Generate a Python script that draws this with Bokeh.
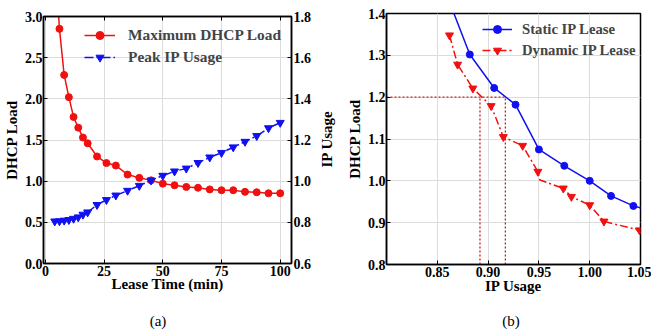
import math
from bokeh.plotting import figure
from bokeh.models import (Range1d, LinearAxis, FixedTicker, NumeralTickFormatter,
                          Legend, LegendItem, Div)
from bokeh.layouts import row, column
from bokeh.embed import file_html
from bokeh.resources import INLINE

# ---------------- data: panel (a) ----------------
lease_time = [4, 6, 8, 10, 12, 14, 16, 18, 22, 26, 30, 35, 40, 45, 50, 55, 60, 65, 70, 75, 80, 85, 90, 95, 100]
max_dhcp_load = [3.70, 2.85, 2.29, 2.02, 1.78, 1.65, 1.53, 1.46, 1.30, 1.22, 1.19, 1.08, 1.04,
                 1.01, 0.97, 0.95, 0.93, 0.92, 0.90, 0.89, 0.89, 0.87, 0.865, 0.853, 0.853]
peak_ip_usage = [0.805, 0.806, 0.809, 0.812, 0.818, 0.825, 0.838, 0.849, 0.885, 0.909, 0.931, 0.954, 0.978,
                 1.004, 1.027, 1.048, 1.062, 1.089, 1.116, 1.138, 1.165, 1.192, 1.220, 1.258, 1.284]
a_x_ticks = [0, 25, 50, 75, 100]
a_y_ticks = [0.0, 0.5, 1.0, 1.5, 2.0, 2.5, 3.0]
a_y2_ticks = [0.6, 0.8, 1.0, 1.2, 1.4, 1.6, 1.8]

# ---------------- data: panel (b) ----------------
ip_usage_static = [0.860, 0.882, 0.906, 0.927, 0.950, 0.975, 1.000, 1.021, 1.043, 1.065]
load_static = [1.44, 1.302, 1.222, 1.182, 1.075, 1.036, 1.000, 0.964, 0.940, 0.925]
ip_usage_dynamic = [0.862, 0.870, 0.885, 0.903, 0.915, 0.934, 0.949, 0.951, 0.974, 0.982, 1.000, 1.014, 1.049]
load_dynamic = [1.348, 1.278, 1.221, 1.179, 1.105, 1.084, 1.022, 1.002, 0.982, 0.962, 0.942, 0.903, 0.882]
dynamic_marked = [True, True, True, True, True, True, True, False, True, True, True, True, True]
target_load = 1.2
crossing_ip = [0.892, 0.917]
b_x_ticks = [0.85, 0.90, 0.95, 1.00, 1.05]
b_y_ticks = [0.8, 0.9, 1.0, 1.1, 1.2, 1.3, 1.4]

FONT = "Liberation Serif"
RED = "#f01010"
BLUE = "#1010f0"
GRID = "#dcdcdc"


def style_axis(ax, ticks, fmt, show_labels=True):
    ax.ticker = FixedTicker(ticks=ticks)
    ax.formatter = NumeralTickFormatter(format=fmt)
    ax.major_tick_in = 4
    ax.major_tick_out = 0
    ax.minor_tick_line_color = None
    ax.major_tick_line_color = "black"
    ax.major_tick_line_width = 1
    ax.axis_line_color = "black"
    ax.axis_line_width = 1.5
    ax.major_label_text_font = FONT
    ax.major_label_text_font_style = "bold"
    ax.major_label_text_font_size = "14px"
    ax.major_label_text_color = "black"
    ax.major_label_standoff = 1
    if not show_labels:
        ax.major_label_overrides = {t: "" for t in ticks}
        ax.major_label_standoff = 0
    ax.axis_label_text_font = FONT
    ax.axis_label_text_font_style = "bold"
    ax.axis_label_text_font_size = "15px"
    ax.axis_label_text_color = "black"
    ax.axis_label_standoff = 1


def base_style(p):
    p.outline_line_color = "black"
    p.outline_line_width = 1.5
    p.background_fill_color = "white"
    p.border_fill_color = "white"
    p.xgrid.grid_line_color = GRID
    p.ygrid.grid_line_color = GRID
    p.xgrid.grid_line_width = 1
    p.ygrid.grid_line_width = 1
    try:
        p.frame_align = False
    except Exception:
        pass


# ---------------- panel (a) ----------------
p1 = figure(frame_width=248, frame_height=247, x_range=Range1d(-0.8, 104.8), y_range=Range1d(0, 3.0),
            output_backend="svg", toolbar_location=None,
            min_border_left=38, min_border_right=24, min_border_top=16, min_border_bottom=42)
p1.extra_y_ranges = {"ip": Range1d(0.6, 1.8)}
base_style(p1)

style_axis(p1.xaxis[0], a_x_ticks, "0")
p1.xaxis[0].axis_label = "Lease Time (min)"
p1.xaxis[0].major_label_standoff = 2
p1.xaxis[0].axis_label_standoff = -3
style_axis(p1.yaxis[0], a_y_ticks, "0.0")
p1.yaxis[0].axis_label = "DHCP Load"
p1.yaxis[0].axis_label_standoff = 2

ax_r = LinearAxis(y_range_name="ip")
style_axis(ax_r, a_y2_ticks, "0.0")
ax_r.major_label_standoff = 2
p1.add_layout(ax_r, "right")
ax_t = LinearAxis()
style_axis(ax_t, a_x_ticks, "0", show_labels=False)
p1.add_layout(ax_t, "above")

r_line = p1.line(lease_time, max_dhcp_load, line_color=RED, line_width=1.5)
r_pts = p1.scatter(lease_time, max_dhcp_load, marker="circle", size=7, fill_color=RED, line_color=RED)
b_line = p1.line(lease_time, peak_ip_usage, y_range_name="ip", line_color=BLUE, line_width=1.5,
                 line_dash="9 3 2 3")
b_pts = p1.scatter(lease_time, peak_ip_usage, y_range_name="ip", marker="inverted_triangle", size=8,
                   fill_color=BLUE, line_color=BLUE)

leg1 = Legend(items=[LegendItem(label="Maximum DHCP Load", renderers=[r_line, r_pts]),
                     LegendItem(label="Peak IP Usage", renderers=[b_line, b_pts])],
              location=(41, 196), padding=0, margin=0, spacing=2,
              glyph_width=31, glyph_height=20, label_height=20, label_standoff=13,
              border_line_alpha=0, background_fill_alpha=0,
              label_text_font=FONT, label_text_font_style="bold", label_text_font_size="15.4px")
p1.add_layout(leg1)

# ---------------- panel (b) ----------------
p2 = figure(frame_width=254, frame_height=251, x_range=Range1d(0.80, 1.05), y_range=Range1d(0.8, 1.4),
            output_backend="svg", toolbar_location=None,
            min_border_left=10, min_border_right=11, min_border_top=13, min_border_bottom=41)
base_style(p2)
style_axis(p2.xaxis[0], b_x_ticks, "0.00")
p2.xaxis[0].axis_label = "IP Usage"
p2.xaxis[0].major_label_standoff = 2
p2.xaxis[0].axis_label_standoff = -2
style_axis(p2.yaxis[0], b_y_ticks, "0.0")
p2.yaxis[0].axis_label = "DHCP Load"
p2.yaxis[0].axis_label_standoff = 2

# label of the right-hand axis of panel (a), drawn in the gap before panel (b)
ax_ip = LinearAxis(axis_label="IP Usage", ticker=FixedTicker(ticks=[]))
ax_ip.axis_line_color = None
ax_ip.major_tick_in = 0
ax_ip.major_tick_out = 0
ax_ip.minor_tick_in = 0
ax_ip.minor_tick_out = 0
ax_ip.major_label_standoff = 0
ax_ip.axis_label_standoff = 9
ax_ip.axis_label_text_font = FONT
ax_ip.axis_label_text_font_style = "bold"
ax_ip.axis_label_text_font_size = "15px"
ax_ip.axis_label_text_color = "black"
p2.add_layout(ax_ip, "left")

# dotted guide lines at the target load
p2.segment(x0=[0.80] + crossing_ip, y0=[target_load] + [0.8] * len(crossing_ip),
           x1=[crossing_ip[-1]] + crossing_ip, y1=[target_load] * (1 + len(crossing_ip)),
           line_color="#c02020", line_width=1.3, line_dash="2 2")

s_line = p2.line(ip_usage_static, load_static, line_color=BLUE, line_width=1.5)
s_pts = p2.scatter(ip_usage_static, load_static, marker="circle", size=7, fill_color=BLUE, line_color=BLUE)
d_line = p2.line(ip_usage_dynamic, load_dynamic, line_color=RED, line_width=1.5, line_dash="8 3 2 3")
mx = [x for x, m in zip(ip_usage_dynamic, dynamic_marked) if m]
my = [y for y, m in zip(load_dynamic, dynamic_marked) if m]
d_pts = p2.scatter(mx, my, marker="inverted_triangle", size=8, fill_color=RED, line_color=RED)

leg2 = Legend(items=[LegendItem(label="Static IP Lease", renderers=[s_line, s_pts]),
                     LegendItem(label="Dynamic IP Lease", renderers=[d_line, d_pts])],
              location=(96, 204), padding=0, margin=0, spacing=1,
              glyph_width=30, glyph_height=20, label_height=20, label_standoff=10,
              border_line_alpha=0, background_fill_alpha=0,
              label_text_font=FONT, label_text_font_style="bold", label_text_font_size="14.7px")
p2.add_layout(leg2)

captions = ('<div style="position:relative;width:640px;height:28px;font-family:\'Liberation Serif\';'
            'font-size:15px;color:black;">'
            '<span style="position:absolute;left:138px;top:8px;width:40px;text-align:center;line-height:17px;">(a)</span>'
            '<span style="position:absolute;left:491px;top:8px;width:40px;text-align:center;line-height:17px;">(b)</span>'
            '</div>')
cap = Div(text=captions, width=640, height=28, margin=0)

layout = column(row(p1, p2), cap)
open("out.html", "w").write(file_html(layout, INLINE))
